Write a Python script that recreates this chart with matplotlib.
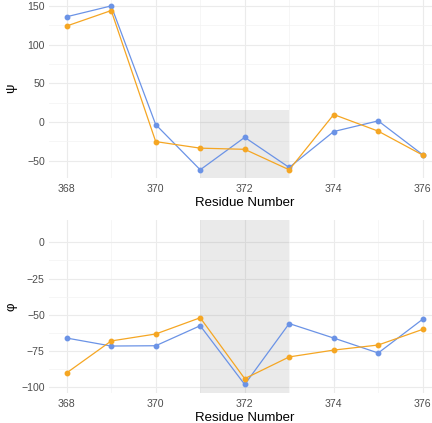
import matplotlib

matplotlib.use("Agg")

import matplotlib.pyplot as plt  # noqa: E402
import numpy as np  # noqa: E402

plt.rcParams["font.family"] = ["Liberation Sans", "DejaVu Sans"]

residues = [368, 369, 370, 371, 372, 373, 374, 375, 376]
psi_blue = [136, 150, -3.5, -62, -20, -59, -12.5, 1.3, -42.5]
psi_orange = [124, 144, -25.5, -34, -35.5, -62, 9.5, -12, -43]
phi_blue = [-66, -71.5, -71.3, -57.5, -98, -56, -66, -76.3, -53]
phi_orange = [-90, -68, -63.2, -52, -94, -79, -74.3, -70.8, -60]
xticks = [368, 370, 372, 374, 376]
psi_ticks = [-50, 0, 50, 100, 150]
phi_ticks = [-100, -75, -50, -25, 0]
shade = (371, 373)
shade_top = 15

blue = "#6B93E6"
orange = "#F5A623"
grid = "#EBEBEB"


def style_axis(ax, yticks, ylabel):
    for s in ax.spines.values():
        s.set_visible(False)
    ax.set_xlim(367.6, 376.4)
    ax.set_xticks(xticks)
    ax.set_xticks([369, 371, 373, 375], minor=True)
    ax.set_yticks(yticks)
    step = yticks[1] - yticks[0]
    ax.set_yticks(np.array(yticks[:-1]) + step / 2, minor=True)
    ax.tick_params(which="both", length=0, labelsize=7.6, labelcolor="#4D4D4D")
    ax.tick_params(axis="x", pad=4.5)
    ax.tick_params(axis="y", pad=3)
    ax.grid(which="major", color=grid, lw=0.8, zorder=0)
    ax.grid(which="minor", color="#F3F3F3", lw=0.5, zorder=0)
    ax.set_axisbelow(True)
    ax.set_xlabel("Residue Number", fontsize=9.5, labelpad=2)
    ax.set_ylabel(ylabel, fontsize=9.5)
    ax.yaxis.set_label_coords(-0.08, 0.5)


def draw(ax, yb, yo, ylim, top):
    ax.set_ylim(*ylim)
    ax.fill_between(list(shade), ylim[0], top, color="grey", alpha=0.16, lw=0, zorder=1)
    ax.plot(residues, yb, color=blue, lw=0.9, marker="o", ms=3.2, zorder=3)
    ax.plot(residues, yo, color=orange, lw=0.9, marker="o", ms=3.2, zorder=3)


fig = plt.figure(figsize=(4.32, 4.23), dpi=100)
ax1 = fig.add_axes([0.1132, 0.5792, 0.9065, 0.4262])
ax2 = fig.add_axes([0.1132, 0.0719, 0.9065, 0.408])

draw(ax1, psi_blue, psi_orange, (-72.6, 160.6), shade_top)
style_axis(ax1, psi_ticks, "ψ")
draw(ax2, phi_blue, phi_orange, (-103.6, 15.4), 15.4)
style_axis(ax2, phi_ticks, "φ")

fig.savefig("out.png", dpi=100)
